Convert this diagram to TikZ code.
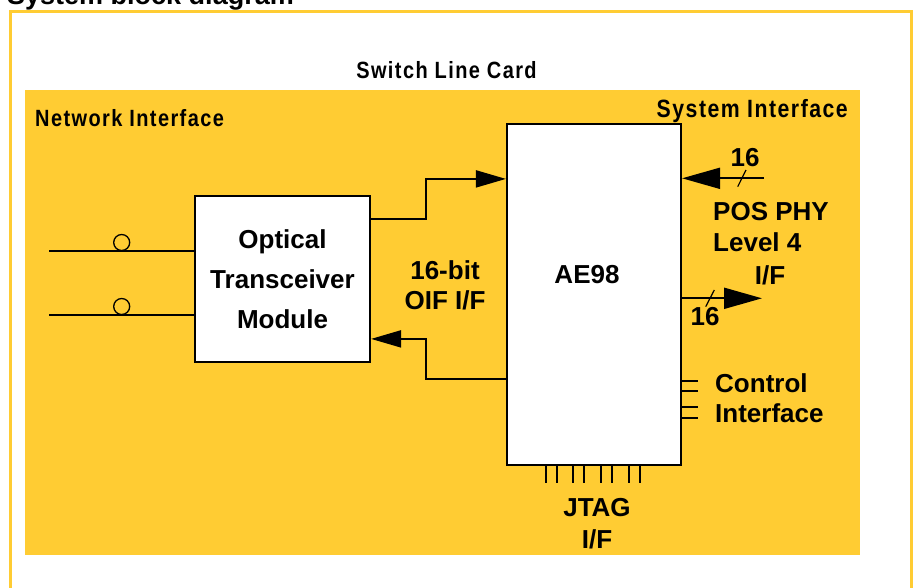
\documentclass[tikz,border=0pt]{standalone}
\usepackage{fontspec}
\setmainfont{Liberation Sans}
\newfontfamily\narrowfont[FakeStretch=0.85,LetterSpace=6]{Liberation Sans}
\usetikzlibrary{arrows.meta,calc}
\definecolor{cardyellow}{HTML}{FFCC33}
\begin{document}
\begin{tikzpicture}[x=1pt,y=-1pt,
  lbl/.style={font=\fontsize{26}{30}\selectfont\bfseries, inner sep=0pt, align=center},
  hdr/.style={font=\fontsize{23.5}{26}\narrowfont\bfseries, inner sep=0pt},
  blockbox/.style={draw=black, fill=white, line width=2.2pt, inner sep=0pt},
  wire/.style={line width=2pt},
  tickline/.style={line width=1.8pt},
  slashline/.style={line width=1.2pt},
  midtip/.style={-{Triangle[length=30pt,width=17pt]}},
  bustip/.style={-{Triangle[length=38pt,width=21pt]}},
  fibre/.style={circle, draw=black, line width=1.3pt, minimum size=16pt, inner sep=0pt}]
\useasboundingbox (0,0) rectangle (915,587);
% title (cut off at top)
\node[anchor=base west, font=\fontsize{27}{30}\selectfont\bfseries, inner sep=0pt] (title) at (7,4) {System block diagram};
% outer frame
\draw[cardyellow, line width=3pt] (10.5,11.3) rectangle (911.5,620);
\node[hdr, anchor=base] (cardtitle) at (446.5,78) {Switch Line Card};
% yellow card
\node[fill=cardyellow, minimum width=835pt, minimum height=465pt, inner sep=0pt, anchor=north west] (card) at (25,90) {};
\node[hdr, anchor=base west] (netif) at (35,126) {Network Interface};
\node[hdr, anchor=base east, font=\fontsize{25}{28}\narrowfont\bfseries] (sysif) at (848,117) {System Interface};
% blocks
\node[blockbox, minimum width=175pt, minimum height=166pt, lbl, font=\fontsize{26}{40}\selectfont\bfseries] (opt) at (282.5,279) {Optical\\Transceiver\\Module};
\node[blockbox, minimum width=174pt, minimum height=341pt] (ae) at (594,294.5) {};
\node[lbl] (aelabel) at (587,275) {AE98};
% fibres
\coordinate (f1) at (49,250.7);
\coordinate (f2) at (49,314.7);
\draw[wire] (f1) -- (f1 -| opt.west);
\draw[wire] (f2) -- (f2 -| opt.west);
\node[fibre] (c1) at (121.7,242.5) {};
\node[fibre] (c2) at (121.7,306.5) {};
% OIF interface
\draw[wire, midtip] ($(opt.north east)+(0,24)$) -- ++(55,0) |- ($(ae.north west)+(0,56)$);
\draw[wire, midtip] ($(ae.north west)+(0,256)$) -- ++(-80,0) |- ($(opt.north east)+(0,144)$);
\node[lbl] (oif) at (445,285) {16-bit\\OIF I/F};
% POS PHY interface
\coordinate (pin) at (764,178.3);
\coordinate (pout) at (762,298.3);
\draw[wire, bustip] (pin) -- (pin -| ae.east);
\draw[wire, bustip] (pout -| ae.east) -- (pout);
\draw[slashline] ($(pin)+(-26.3,8.4)$) -- ++(8.3,-16.7);
\draw[slashline] ($(pout)+(-56.3,8.4)$) -- ++(8.6,-16.7);
\node[lbl] (nin) at (745,158) {16};
\node[lbl] (nout) at (705,316.7) {16};
\node[lbl, align=left, anchor=west, font=\fontsize{26}{31}\selectfont\bfseries] (pos) at (713,227.5) {POS PHY\\Level 4};
\node[lbl] (posif) at (770,275) {I/F};
% control interface
\foreach \i/\y in {1/380.7,2/390.7,3/407.3,4/418.3}{
  \coordinate (ct\i) at (698.3,\y);
  \draw[tickline] (ct\i -| ae.east) -- (ct\i);
}
\node[lbl, align=left, anchor=west] (ctrl) at (715,398) {Control\\Interface};
% JTAG
\foreach \i/\x in {1/545.7,2/556.7,3/573.3,4/584,5/601,6/612,7/629,8/640}{
  \coordinate (jt\i) at (\x,482.7);
  \draw[tickline] (jt\i |- ae.south) -- (jt\i);
}
\node[lbl, font=\fontsize{26}{32}\selectfont\bfseries] (jtag) at (597,524) {JTAG\\I/F};
\end{tikzpicture}
\end{document}
